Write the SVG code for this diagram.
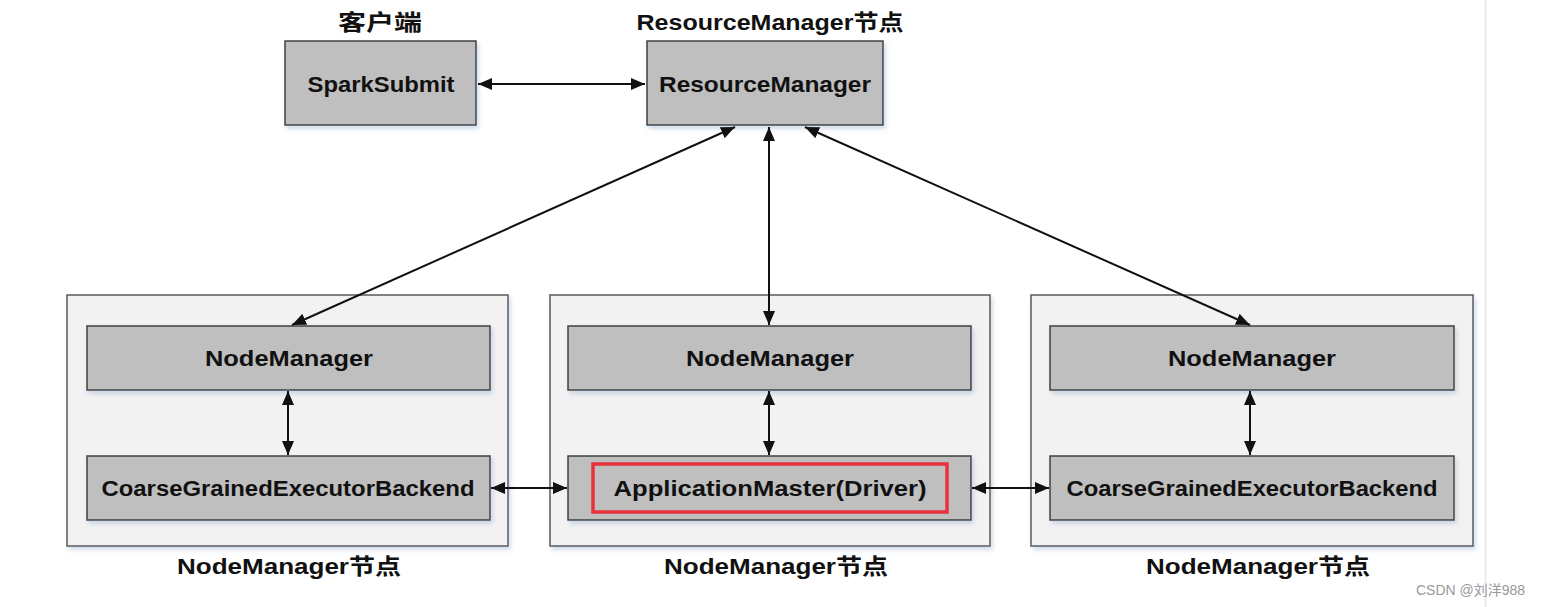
<svg xmlns="http://www.w3.org/2000/svg" width="1543" height="607" viewBox="0 0 1543 607">
<style>
  .outer { fill:#f2f2f2; stroke:#595959; stroke-width:1.5; }
  .box { fill:#bfbfbf; stroke:#404040; stroke-width:1.5; }
  .t { font-family:"Liberation Sans","Noto Sans CJK SC",sans-serif; font-weight:bold; font-size:22px; fill:#111; text-anchor:middle; }
  .lbl { font-family:"Liberation Sans","Noto Sans CJK SC",sans-serif; font-weight:bold; font-size:22px; fill:#111; text-anchor:middle; }
  .conn { stroke:#111; stroke-width:2; fill:none; marker-start:url(#ah); marker-end:url(#ah); }
  .wm { font-family:"Liberation Sans","Noto Sans CJK SC",sans-serif; font-size:14px; fill:#999; }
</style>
<defs>
  <filter id="sh" x="-10%" y="-10%" width="130%" height="140%">
    <feDropShadow dx="2" dy="3" stdDeviation="2" flood-color="#9fb6d4" flood-opacity="0.5"/>
  </filter>
  <marker id="ah" viewBox="0 0 14 12" refX="14" refY="6" markerWidth="14" markerHeight="12" markerUnits="userSpaceOnUse" orient="auto-start-reverse">
    <path d="M0,0 L14,6 L0,12 Z" fill="#111"/>
  </marker>
</defs>
<rect width="1543" height="607" fill="#ffffff"/>
<line x1="1485.5" y1="0" x2="1485.5" y2="607" stroke="#e8e8e8" stroke-width="1.5"/>

<g id="client">
  <text class="lbl" x="380" y="30" textLength="84" lengthAdjust="spacingAndGlyphs">客户端</text>
  <rect class="box" x="285" y="41" width="191" height="84" filter="url(#sh)"/>
  <text class="t" x="381" y="92" textLength="147" lengthAdjust="spacingAndGlyphs">SparkSubmit</text>
</g>
<g id="rm">
  <text class="lbl" x="770" y="30" textLength="267" lengthAdjust="spacingAndGlyphs">ResourceManager节点</text>
  <rect class="box" x="647" y="41" width="236" height="84" filter="url(#sh)"/>
  <text class="t" x="765" y="92" textLength="212" lengthAdjust="spacingAndGlyphs">ResourceManager</text>
</g>

<g id="nm-left">
  <rect class="outer" x="67" y="295" width="441" height="251" filter="url(#sh)"/>
  <rect class="box" x="87" y="326" width="403" height="64" filter="url(#sh)"/>
  <text class="t" x="289" y="366" textLength="168" lengthAdjust="spacingAndGlyphs">NodeManager</text>
  <rect class="box" x="87" y="456" width="403" height="64" filter="url(#sh)"/>
  <text class="t" x="288" y="496" textLength="373" lengthAdjust="spacingAndGlyphs">CoarseGrainedExecutorBackend</text>
  <text class="lbl" x="289" y="574" textLength="224" lengthAdjust="spacingAndGlyphs">NodeManager节点</text>
</g>
<g id="nm-mid">
  <rect class="outer" x="550" y="295" width="440" height="251" filter="url(#sh)"/>
  <rect class="box" x="568" y="326" width="403" height="64" filter="url(#sh)"/>
  <text class="t" x="770" y="366" textLength="168" lengthAdjust="spacingAndGlyphs">NodeManager</text>
  <rect class="box" x="568" y="456" width="403" height="64" filter="url(#sh)"/>
  <rect x="593" y="464" width="354" height="48" fill="none" stroke="#e8323c" stroke-width="3.5"/>
  <text class="t" x="770" y="496" textLength="313" lengthAdjust="spacingAndGlyphs">ApplicationMaster(Driver)</text>
  <text class="lbl" x="776" y="574" textLength="224" lengthAdjust="spacingAndGlyphs">NodeManager节点</text>
</g>
<g id="nm-right">
  <rect class="outer" x="1031" y="295" width="442" height="251" filter="url(#sh)"/>
  <rect class="box" x="1050" y="326" width="404" height="64" filter="url(#sh)"/>
  <text class="t" x="1252" y="366" textLength="168" lengthAdjust="spacingAndGlyphs">NodeManager</text>
  <rect class="box" x="1050" y="456" width="404" height="64" filter="url(#sh)"/>
  <text class="t" x="1252" y="496" textLength="371" lengthAdjust="spacingAndGlyphs">CoarseGrainedExecutorBackend</text>
  <text class="lbl" x="1258" y="574" textLength="224" lengthAdjust="spacingAndGlyphs">NodeManager节点</text>
</g>

<g id="connectors">
  <line class="conn" x1="478" y1="84" x2="645" y2="84"/>
  <line class="conn" x1="735" y1="127" x2="292" y2="325"/>
  <line class="conn" x1="769" y1="127" x2="769" y2="325"/>
  <line class="conn" x1="805" y1="127" x2="1250" y2="325"/>
  <line class="conn" x1="288" y1="391" x2="288" y2="455"/>
  <line class="conn" x1="769" y1="391" x2="769" y2="455"/>
  <line class="conn" x1="1250" y1="391" x2="1250" y2="455"/>
  <line class="conn" x1="491" y1="488" x2="567" y2="488"/>
  <line class="conn" x1="972" y1="488" x2="1049" y2="488"/>
</g>

<text class="wm" x="1416" y="595">CSDN @刘洋988</text>
</svg>
